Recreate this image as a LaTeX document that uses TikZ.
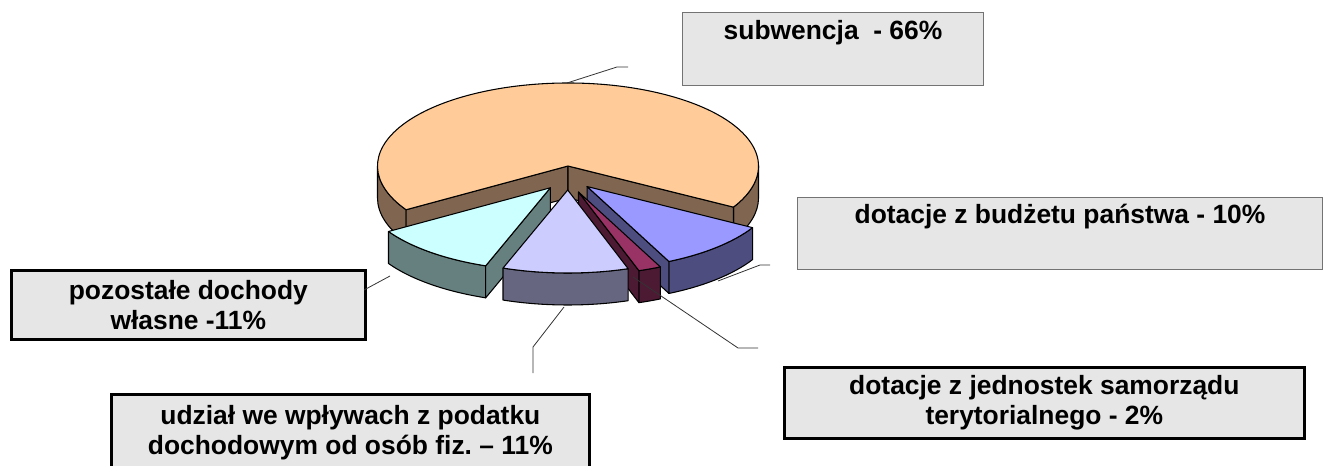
\documentclass[tikz,border=0pt]{standalone}
\usepackage{fontspec}
\setmainfont{Liberation Sans}
\usepackage{tikz}

\definecolor{boxfill}{HTML}{E6E6E6}
\definecolor{orangetop}{HTML}{FFCC99}
\definecolor{orangeside}{HTML}{806650}
\definecolor{bluetop}{HTML}{9999FF}
\definecolor{blueside}{HTML}{4D4D80}
\definecolor{maroontop}{HTML}{993366}
\definecolor{maroonside}{HTML}{4D1A33}
\definecolor{lavtop}{HTML}{CCCCFF}
\definecolor{lavside}{HTML}{666680}
\definecolor{cyantop}{HTML}{CCFFFF}
\definecolor{cyanside}{HTML}{668080}

% faces of one slice: colour, angle(s)
\newcommand{\pietop}[3]{%
  \filldraw[facet, fill=#1] (0,0) -- (#2:190.5 and 83)
    arc[start angle=#2, end angle=#3, x radius=190.5, y radius=83] -- cycle;}
\newcommand{\pieside}[3]{%
  \filldraw[facet, fill=#1] (#2:190.5 and 83)
    arc[start angle=#2, end angle=#3, x radius=190.5, y radius=83] -- ++(0,-32)
    arc[start angle=#3, end angle=#2, x radius=190.5, y radius=83] -- cycle;}
\newcommand{\piecut}[2]{%
  \filldraw[facet, fill=#1] (0,0) -- (#2:190.5 and 83) -- ++(0,-32) -- (0,-32) -- cycle;}

\begin{document}
\begin{tikzpicture}[
  x=0.75pt, y=-0.75pt,
  every node/.style={font=\bfseries\fontsize{19.8}{22.5}\selectfont, align=center, inner sep=0pt}, % labels
  labelbox/.style={draw=black!55, line width=0.75pt, fill=boxfill, anchor=north west},
  thickbox/.style={labelbox, draw=black, line width=2pt},
  leader/.style={draw=black!80, line width=0.6pt},
  facet/.style={draw=black, line width=0.8pt, line join=round}
]
  \useasboundingbox (0,0) rectangle (1327,466);

  % the pie, y pointing up inside
  \begin{scope}[shift={(568,166)}, y=0.75pt]
    \pieside{orangeside}{-29.7}{0}
    \pieside{orangeside}{180}{211.8}
    \piecut{orangeside}{211.8}
    \piecut{orangeside}{-29.7}
    \pietop{orangetop}{-29.7}{211.8}
    \begin{scope}[shift={(-47.1:28)}]
      \pieside{blueside}{-64.55}{-29.7}
      \piecut{blueside}{-64.55}
      \pietop{bluetop}{-64.55}{-29.7}
    \end{scope}
    \begin{scope}[shift={(-129.0:28)}]
      \pieside{cyanside}{-148.2}{-109.85}
      \piecut{cyanside}{-109.85}
      \pietop{cyantop}{-148.2}{-109.85}
    \end{scope}
    \begin{scope}[shift={(-68.0:28)}]
      \pieside{maroonside}{-71.5}{-64.55}
      \piecut{maroonside}{-71.5}
      \pietop{maroontop}{-71.5}{-64.55}
    \end{scope}
    \begin{scope}[shift={(-90.7:24)}]
      \pieside{lavside}{-109.85}{-71.5}
      \pietop{lavtop}{-109.85}{-71.5}
    \end{scope}
  \end{scope}

  % labels
  \node[labelbox, minimum width=225.75pt, minimum height=54.75pt] (subw) at (682,12)
    {subwencja\ \ - 66\%\\\strut};
  \node[labelbox, minimum width=393.75pt, minimum height=54pt] (budz) at (797,197)
    {dotacje z budżetu państwa - 10\%\\\strut};
  \node[thickbox, minimum width=390pt, minimum height=53.25pt] (samorz) at (783,366)
    {dotacje z jednostek samorządu\\terytorialnego - 2\%};
  \node[thickbox, minimum width=265.5pt, minimum height=51.75pt] (pozost) at (10,269)
    {pozostałe dochody\\własne -11\%};
  \node[thickbox, minimum width=358.5pt, minimum height=57pt] (udzial) at (110,393)
    {udział we wpływach z podatku\\dochodowym od osób fiz.\ – 11\%};

  % leader lines
  \coordinate (subw-a) at (567,83);
  \coordinate (subw-b) at (617,67);
  \coordinate (subw-c) at (628,67);
  \coordinate (budz-a) at (718,281);
  \coordinate (budz-b) at (760,265);
  \coordinate (budz-c) at (770,265);
  \coordinate (samorz-a) at (633,277);
  \coordinate (samorz-b) at (738,348);
  \coordinate (samorz-c) at (758,348);
  \coordinate (udzial-a) at (564,307);
  \coordinate (udzial-b) at (533,347);
  \coordinate (udzial-c) at (533,373);
  \coordinate (pozost-a) at (390,276);
  \coordinate (pozost-b) at (364,290);
  \draw[leader] (subw-a) -- (subw-b) -- (subw-c);
  \draw[leader] (budz-a) -- (budz-b) -- (budz-c);
  \draw[leader] (samorz-a) -- (samorz-b) -- (samorz-c);
  \draw[leader] (udzial-a) -- (udzial-b) -- (udzial-c);
  \draw[leader] (pozost-a) -- (pozost-b);
\end{tikzpicture}
\end{document}
